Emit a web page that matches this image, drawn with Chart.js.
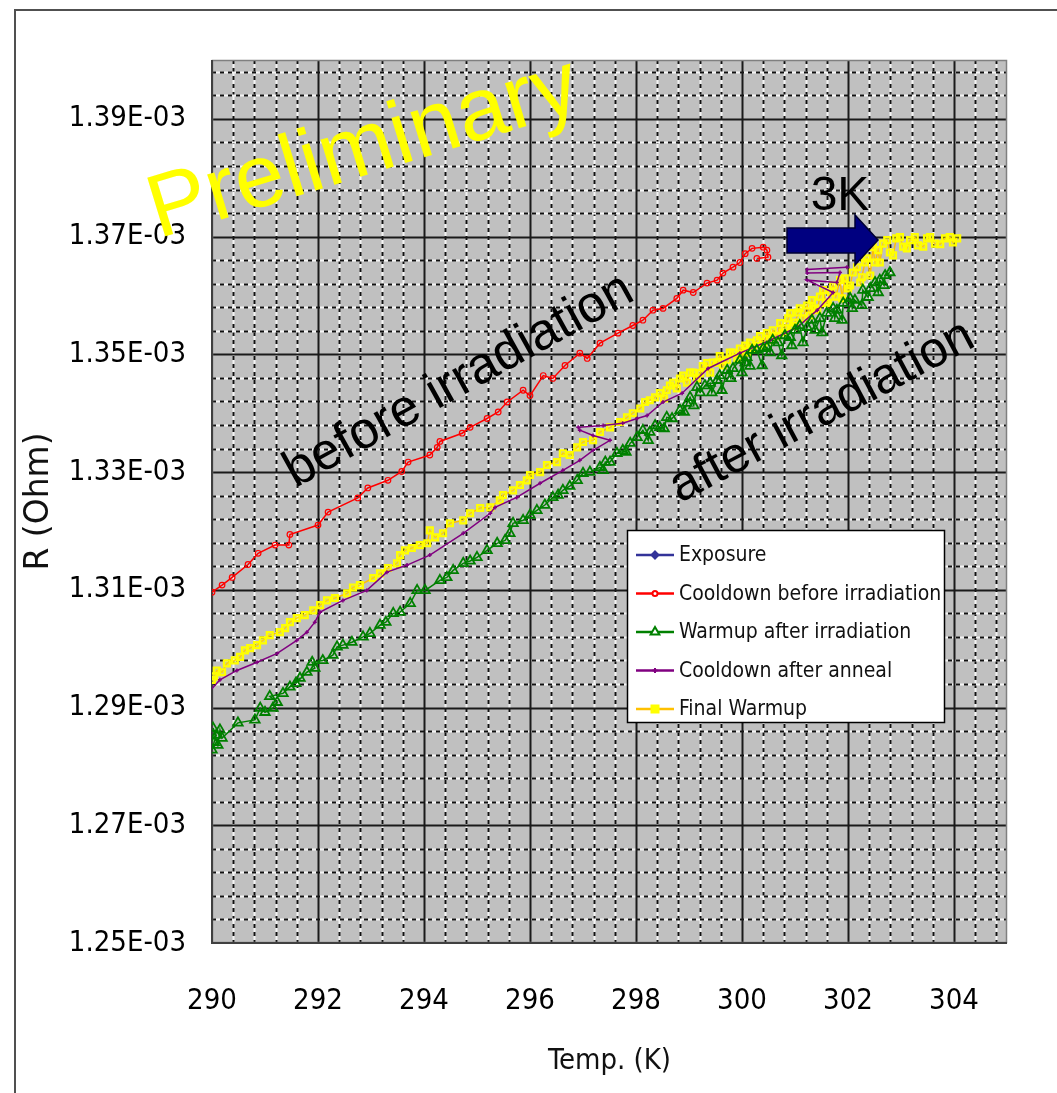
<!DOCTYPE html>
<html>
<head>
<meta charset="utf-8">
<script src="https://cdn.jsdelivr.net/npm/chart.js"></script>
<style>
  html, body { margin: 0; padding: 0; background: #ffffff; }
  #wrap { width: 1057px; height: 1093px; position: relative; }
</style>
</head>
<body>
<div id="wrap"><canvas id="c" width="1057" height="1093"></canvas></div>
<script>
// ---------------- DATA ----------------
const xTickValues = [290, 292, 294, 296, 298, 300, 302, 304];
const xTickLabels = ['290', '292', '294', '296', '298', '300', '302', '304'];
const yTickValues = [1.25e-3, 1.27e-3, 1.29e-3, 1.31e-3, 1.33e-3, 1.35e-3, 1.37e-3, 1.39e-3];
const yTickLabels = ['1.25E-03', '1.27E-03', '1.29E-03', '1.31E-03', '1.33E-03', '1.35E-03', '1.37E-03', '1.39E-03'];

const seriesNames = ['Exposure', 'Cooldown before irradiation', 'Warmup after irradiation', 'Cooldown after anneal', 'Final Warmup'];

const exposureT = [];
const exposureR = [];

const coolBeforeT = [300.28, 300.49, 300.47, 300.40, 300.19, 300.06, 299.96, 299.83, 299.64, 299.53, 299.34, 299.08, 298.89, 298.77, 298.51, 298.32, 298.13, 297.94, 297.66, 297.32, 297.08, 296.94, 296.66, 296.43, 296.25, 296.00, 295.87, 295.57, 295.40, 295.19, 294.87, 294.72, 294.30, 294.25, 294.11, 293.70, 293.58, 293.32, 292.94, 292.75, 292.19, 292.00, 291.47, 291.45, 291.19, 290.87, 290.68, 290.38, 290.19, 290.00, 289.87];
const coolBeforeR = [1.3663e-3, 1.3665e-3, 1.3677e-3, 1.3682e-3, 1.3680e-3, 1.3671e-3, 1.3656e-3, 1.3648e-3, 1.3638e-3, 1.3626e-3, 1.3621e-3, 1.3605e-3, 1.3609e-3, 1.3595e-3, 1.3578e-3, 1.3575e-3, 1.3558e-3, 1.3549e-3, 1.3536e-3, 1.3519e-3, 1.3493e-3, 1.3502e-3, 1.3481e-3, 1.3459e-3, 1.3464e-3, 1.3430e-3, 1.3439e-3, 1.3419e-3, 1.3402e-3, 1.3391e-3, 1.3376e-3, 1.3366e-3, 1.3352e-3, 1.3342e-3, 1.3329e-3, 1.3317e-3, 1.3301e-3, 1.3286e-3, 1.3273e-3, 1.3256e-3, 1.3232e-3, 1.3210e-3, 1.3194e-3, 1.3176e-3, 1.3176e-3, 1.3162e-3, 1.3143e-3, 1.3121e-3, 1.3108e-3, 1.3096e-3, 1.3087e-3];

const warmAfterIrrT = [290.00, 290.04, 290.08, 290.02, 290.11, 290.15, 290.19, 290.49, 290.81, 290.91, 291.00, 291.15, 291.23, 291.09, 291.34, 291.47, 291.66, 291.58, 291.79, 291.94, 291.89, 292.09, 292.28, 292.36, 292.47, 292.64, 292.85, 292.98, 293.17, 293.28, 293.42, 293.55, 293.74, 293.87, 294.02, 294.30, 294.43, 294.55, 294.74, 294.87, 295.00, 295.19, 295.38, 295.53, 295.62, 295.68, 295.87, 296.00, 296.13, 296.28, 296.43, 296.53, 296.62, 296.75, 296.89, 297.00, 297.13, 297.32, 297.38, 297.42, 297.51, 297.64, 297.75, 297.81, 297.89, 298.02, 298.13, 298.23, 298.26, 298.36, 298.45, 298.53, 298.58, 298.68, 298.83, 298.91, 298.96, 299.02, 299.09, 299.15, 299.21, 299.30, 299.40, 299.43, 299.53, 299.58, 299.62, 299.72, 299.79, 299.83, 299.96, 300.00, 300.06, 300.09, 300.15, 300.19, 300.28, 300.38, 300.40, 300.47, 300.53, 300.58, 300.68, 300.75, 300.81, 300.91, 300.94, 301.00, 301.09, 301.15, 301.23, 301.32, 301.38, 301.47, 301.51, 301.60, 301.72, 301.75, 301.79, 301.89, 301.91, 302.04, 302.08, 302.13, 302.26, 302.28, 302.38, 302.42, 302.51, 302.57, 302.60, 302.68, 302.70, 302.79];
const warmAfterIrrR = [1.2828e-3, 1.2841e-3, 1.2853e-3, 1.2865e-3, 1.2836e-3, 1.2862e-3, 1.2848e-3, 1.2874e-3, 1.2879e-3, 1.2899e-3, 1.2892e-3, 1.2899e-3, 1.2909e-3, 1.2919e-3, 1.2924e-3, 1.2935e-3, 1.2950e-3, 1.2941e-3, 1.2960e-3, 1.2967e-3, 1.2977e-3, 1.2980e-3, 1.2989e-3, 1.3003e-3, 1.3006e-3, 1.3011e-3, 1.3020e-3, 1.3026e-3, 1.3040e-3, 1.3045e-3, 1.3060e-3, 1.3062e-3, 1.3077e-3, 1.3099e-3, 1.3099e-3, 1.3116e-3, 1.3121e-3, 1.3133e-3, 1.3145e-3, 1.3149e-3, 1.3155e-3, 1.3167e-3, 1.3179e-3, 1.3184e-3, 1.3196e-3, 1.3213e-3, 1.3218e-3, 1.3227e-3, 1.3235e-3, 1.3244e-3, 1.3257e-3, 1.3261e-3, 1.3269e-3, 1.3276e-3, 1.3286e-3, 1.3298e-3, 1.3300e-3, 1.3308e-3, 1.3303e-3, 1.3317e-3, 1.3317e-3, 1.3332e-3, 1.3337e-3, 1.3334e-3, 1.3349e-3, 1.3359e-3, 1.3371e-3, 1.3354e-3, 1.3368e-3, 1.3379e-3, 1.3376e-3, 1.3374e-3, 1.3393e-3, 1.3391e-3, 1.3405e-3, 1.3402e-3, 1.3417e-3, 1.3427e-3, 1.3413e-3, 1.3444e-3, 1.3435e-3, 1.3447e-3, 1.3451e-3, 1.3435e-3, 1.3456e-3, 1.3464e-3, 1.3439e-3, 1.3473e-3, 1.3459e-3, 1.3476e-3, 1.3490e-3, 1.3469e-3, 1.3486e-3, 1.3495e-3, 1.3480e-3, 1.3507e-3, 1.3507e-3, 1.3481e-3, 1.3510e-3, 1.3512e-3, 1.3503e-3, 1.3524e-3, 1.3520e-3, 1.3498e-3, 1.3532e-3, 1.3529e-3, 1.3515e-3, 1.3541e-3, 1.3549e-3, 1.3520e-3, 1.3546e-3, 1.3558e-3, 1.3541e-3, 1.3561e-3, 1.3537e-3, 1.3570e-3, 1.3578e-3, 1.3561e-3, 1.3575e-3, 1.3558e-3, 1.3587e-3, 1.3595e-3, 1.3578e-3, 1.3592e-3, 1.3583e-3, 1.3609e-3, 1.3597e-3, 1.3612e-3, 1.3622e-3, 1.3605e-3, 1.3626e-3, 1.3617e-3, 1.3634e-3, 1.3639e-3];

const coolAfterAnnealT = [301.98, 301.23, 301.23, 301.85, 301.79, 301.23, 301.72, 301.42, 301.04, 300.53, 299.96, 299.36, 298.87, 298.51, 298.21, 298.02, 297.75, 297.38, 296.91, 296.94, 297.19, 297.51, 297.19, 296.94, 296.62, 296.19, 295.75, 295.34, 295.25, 294.74, 294.11, 293.68, 293.30, 292.92, 292.47, 292.04, 291.94, 291.79, 291.60, 291.23, 290.85, 290.47, 290.15, 289.92];
const coolAfterAnnealR = [1.3648e-3, 1.3644e-3, 1.3638e-3, 1.3639e-3, 1.3622e-3, 1.3626e-3, 1.3605e-3, 1.3575e-3, 1.3546e-3, 1.3524e-3, 1.3502e-3, 1.3476e-3, 1.3434e-3, 1.3419e-3, 1.3396e-3, 1.3391e-3, 1.3383e-3, 1.3379e-3, 1.3376e-3, 1.3371e-3, 1.3362e-3, 1.3354e-3, 1.3337e-3, 1.3320e-3, 1.3303e-3, 1.3281e-3, 1.3257e-3, 1.3240e-3, 1.3230e-3, 1.3196e-3, 1.3159e-3, 1.3142e-3, 1.3130e-3, 1.3099e-3, 1.3082e-3, 1.3062e-3, 1.3045e-3, 1.3028e-3, 1.3014e-3, 1.2992e-3, 1.2977e-3, 1.2963e-3, 1.2947e-3, 1.2924e-3];

const finalWarmT = [290.00, 290.04, 290.09, 290.19, 290.28, 290.43, 290.53, 290.62, 290.72, 290.85, 290.96, 291.09, 291.28, 291.38, 291.47, 291.60, 291.75, 291.91, 292.04, 292.17, 292.32, 292.55, 292.66, 292.79, 293.04, 293.17, 293.32, 293.49, 293.55, 293.64, 293.77, 293.92, 294.06, 294.11, 294.21, 294.36, 294.49, 294.74, 294.87, 295.06, 295.25, 295.43, 295.49, 295.68, 295.81, 295.94, 296.00, 296.19, 296.32, 296.51, 296.62, 296.75, 296.89, 297.00, 297.19, 297.32, 297.51, 297.70, 297.83, 297.94,
  298.08, 298.17, 298.26, 298.36, 298.45, 298.53, 298.58, 298.64, 298.70, 298.77, 298.83, 298.89, 298.96, 299.02, 299.08, 299.15, 299.21, 299.26, 299.34, 299.40, 299.45, 299.53, 299.58, 299.64, 299.72, 299.77, 299.83, 299.91, 299.96, 300.02, 300.06, 300.11, 300.15, 300.21, 300.28, 300.34, 300.40, 300.47, 300.53, 300.58, 300.66, 300.72, 300.77, 300.81, 300.87, 300.91, 300.96, 301.00, 301.06, 301.09, 301.15, 301.23, 301.28, 301.32, 301.38, 301.42, 301.47, 301.53, 301.58, 301.62, 301.68, 301.72, 301.77, 301.85, 301.89, 301.94, 302.00, 302.04, 302.09, 302.17, 302.23, 302.26, 302.32, 302.36, 302.42, 302.47, 302.51, 302.57, 302.60, 302.66, 302.74, 302.79, 302.85, 302.91, 302.98, 303.04, 303.11, 303.17, 303.26, 303.32, 303.42, 303.49, 303.55, 303.64, 303.74, 303.83, 303.92, 303.98, 304.06];
const finalWarmR = [1.2947e-3, 1.2953e-3, 1.2963e-3, 1.2960e-3, 1.2975e-3, 1.2980e-3, 1.2986e-3, 1.2997e-3, 1.3001e-3, 1.3006e-3, 1.3014e-3, 1.3023e-3, 1.3028e-3, 1.3035e-3, 1.3045e-3, 1.3052e-3, 1.3057e-3, 1.3065e-3, 1.3074e-3, 1.3082e-3, 1.3086e-3, 1.3094e-3, 1.3104e-3, 1.3108e-3, 1.3120e-3, 1.3128e-3, 1.3137e-3, 1.3145e-3, 1.3159e-3, 1.3167e-3, 1.3171e-3, 1.3176e-3, 1.3179e-3, 1.3201e-3, 1.3189e-3, 1.3196e-3, 1.3213e-3, 1.3218e-3, 1.3230e-3, 1.3239e-3, 1.3240e-3, 1.3252e-3, 1.3261e-3, 1.3269e-3, 1.3278e-3, 1.3286e-3, 1.3295e-3, 1.3300e-3, 1.3312e-3, 1.3317e-3, 1.3332e-3, 1.3329e-3, 1.3342e-3, 1.3351e-3, 1.3354e-3, 1.3368e-3, 1.3376e-3, 1.3385e-3, 1.3393e-3, 1.3400e-3,
  1.3408e-3, 1.3419e-3, 1.3422e-3, 1.3427e-3, 1.3434e-3, 1.3425e-3, 1.3439e-3, 1.3447e-3, 1.3452e-3, 1.3442e-3, 1.3459e-3, 1.3464e-3, 1.3452e-3, 1.3469e-3, 1.3469e-3, 1.3459e-3, 1.3468e-3, 1.3480e-3, 1.3485e-3, 1.3469e-3, 1.3486e-3, 1.3486e-3, 1.3497e-3, 1.3481e-3, 1.3490e-3, 1.3503e-3, 1.3503e-3, 1.3493e-3, 1.3510e-3, 1.3498e-3, 1.3515e-3, 1.3503e-3, 1.3520e-3, 1.3510e-3, 1.3524e-3, 1.3531e-3, 1.3515e-3, 1.3536e-3, 1.3524e-3, 1.3541e-3, 1.3531e-3, 1.3553e-3, 1.3537e-3, 1.3544e-3, 1.3561e-3, 1.3570e-3, 1.3548e-3, 1.3554e-3, 1.3571e-3, 1.3578e-3, 1.3561e-3, 1.3583e-3, 1.3566e-3, 1.3592e-3, 1.3578e-3, 1.3575e-3, 1.3598e-3, 1.3609e-3, 1.3587e-3, 1.3588e-3, 1.3605e-3, 1.3617e-3, 1.3598e-3, 1.3626e-3, 1.3595e-3, 1.3629e-3, 1.3612e-3, 1.3617e-3, 1.3639e-3, 1.3648e-3, 1.3622e-3, 1.3631e-3, 1.3656e-3, 1.3663e-3, 1.3634e-3, 1.3682e-3, 1.3656e-3, 1.3677e-3, 1.3656e-3, 1.3688e-3, 1.3694e-3, 1.3673e-3, 1.3668e-3, 1.3697e-3, 1.3699e-3, 1.3683e-3, 1.3680e-3, 1.3694e-3, 1.3699e-3, 1.3685e-3, 1.3683e-3, 1.3697e-3, 1.3699e-3, 1.3688e-3, 1.3687e-3, 1.3697e-3, 1.3699e-3, 1.3690e-3, 1.3697e-3];

// ---------------- STYLE / LAYOUT ----------------
const X_MIN = 290, X_MAX = 305, X_MINOR = 0.4, X_MAJOR_EVERY = 5;
const Y_MIN = 1.25e-3, Y_MAX = 1.40e-3, Y_MINOR = 0.004e-3, Y_MAJOR_EVERY = 5;
const NARROW = "'Liberation Sans Narrow', 'DejaVu Sans Condensed', 'Arial Narrow', sans-serif";
const SANS = "'Liberation Sans', Arial, sans-serif";

function pts(T, R) { return T.map((t, i) => ({ x: t, y: R[i] })); }

const datasets = [
  { label: seriesNames[0], data: pts(exposureT, exposureR), borderColor: '#333399', backgroundColor: '#333399',
    pointStyle: 'rectRot', pointRadius: 3, pointBorderWidth: 1, borderWidth: 2, legendMarkerR: 3.5, legendFill: true },
  { label: seriesNames[1], data: pts(coolBeforeT, coolBeforeR), borderColor: '#ff0000', backgroundColor: 'rgba(0,0,0,0)',
    pointBorderColor: '#ff0000', pointStyle: 'circle', pointRadius: 2.8, pointBorderWidth: 1.2, borderWidth: 1.5, legendMarkerR: 2.5 },
  { label: seriesNames[2], data: pts(warmAfterIrrT, warmAfterIrrR), borderColor: '#008000', backgroundColor: 'rgba(0,0,0,0)',
    pointBorderColor: '#008000', pointStyle: 'triangle', pointRadius: 5.5, pointBorderWidth: 1.8, borderWidth: 1.5, legendMarkerR: 5 },
  { label: seriesNames[3], data: pts(coolAfterAnnealT, coolAfterAnnealR), borderColor: '#800080', backgroundColor: 'rgba(0,0,0,0)',
    pointBorderColor: '#800080', pointStyle: 'cross', pointRadius: 2, pointBorderWidth: 1.5, borderWidth: 1.5, legendMarkerR: 2.5 },
  { label: seriesNames[4], data: pts(finalWarmT, finalWarmR), borderColor: '#ffc000', backgroundColor: 'rgba(255,255,0,0.35)',
    pointBorderColor: '#ffff00', pointStyle: 'rect', pointRadius: 4.2, pointBorderWidth: 2.2, borderWidth: 1.5, legendMarkerR: 3.5, legendMarkerColor: '#ffff00' }
];

// Plot background + Excel-like grid (drawn through the chart scales)
const gridPlugin = {
  id: 'excelGrid',
  beforeDatasetsDraw(chart) {
    const { ctx, chartArea: a, scales: { x, y } } = chart;
    ctx.save();
    ctx.fillStyle = '#c0c0c0';
    ctx.fillRect(a.left, a.top, a.right - a.left, a.bottom - a.top);
    const nx = Math.floor((X_MAX - X_MIN) / X_MINOR + 1e-6);
    const ny = Math.floor((Y_MAX - Y_MIN) / Y_MINOR + 1e-6);
    const vLine = (v, dash, color) => {
      const px = Math.round(x.getPixelForValue(v)) + 0.5;
      ctx.strokeStyle = color; ctx.setLineDash(dash);
      ctx.beginPath(); ctx.moveTo(px, a.top); ctx.lineTo(px, a.bottom); ctx.stroke();
    };
    const hLine = (v, dash, color) => {
      const py = Math.round(y.getPixelForValue(v)) + 0.5;
      ctx.strokeStyle = color; ctx.setLineDash(dash);
      ctx.beginPath(); ctx.moveTo(a.left, py); ctx.lineTo(a.right, py); ctx.stroke();
    };
    ctx.lineWidth = 2;
    for (let i = 1; i <= nx; i++) {
      if (i % X_MAJOR_EVERY === 0) continue;
      const v = X_MIN + i * X_MINOR;
      vLine(v, [], '#f4f4f4'); vLine(v, [4, 4], '#111111');
    }
    for (let j = 1; j <= ny; j++) {
      if (j % Y_MAJOR_EVERY === 0) continue;
      const v = Y_MIN + j * Y_MINOR;
      hLine(v, [], '#f4f4f4'); hLine(v, [4, 4], '#111111');
    }
    ctx.lineWidth = 2;
    for (let i = X_MAJOR_EVERY; i <= nx; i += X_MAJOR_EVERY) vLine(X_MIN + i * X_MINOR, [], '#1a1a1a');
    for (let j = Y_MAJOR_EVERY; j <= ny; j += Y_MAJOR_EVERY) hLine(Y_MIN + j * Y_MINOR, [], '#1a1a1a');
    ctx.setLineDash([]);
    ctx.strokeStyle = '#808080'; ctx.lineWidth = 1.5;
    ctx.strokeRect(a.left + 0.5, a.top + 0.5, a.right - a.left - 1, a.bottom - a.top - 1);
    ctx.strokeStyle = '#404040'; ctx.lineWidth = 2;
    ctx.beginPath(); ctx.moveTo(a.left, a.top); ctx.lineTo(a.left, a.bottom); ctx.lineTo(a.right, a.bottom); ctx.stroke();
    ctx.restore();
  }
};

const framePlugin = {
  id: 'frame',
  beforeDraw(chart) {
    const { ctx } = chart;
    ctx.save();
    ctx.fillStyle = '#ffffff';
    ctx.fillRect(0, 0, chart.width, chart.height);
    ctx.strokeStyle = '#505050'; ctx.lineWidth = 2;
    ctx.beginPath(); ctx.moveTo(15, chart.height + 5); ctx.lineTo(15, 10); ctx.lineTo(chart.width + 5, 10); ctx.stroke();
    ctx.restore();
  }
};

function drawMarker(ctx, style, x, y, r) {
  ctx.beginPath();
  if (style === 'rectRot') { ctx.moveTo(x, y - r); ctx.lineTo(x + r, y); ctx.lineTo(x, y + r); ctx.lineTo(x - r, y); ctx.closePath(); }
  else if (style === 'circle') { ctx.arc(x, y, r, 0, Math.PI * 2); }
  else if (style === 'triangle') { ctx.moveTo(x, y - r); ctx.lineTo(x + r * 0.87, y + r * 0.5); ctx.lineTo(x - r * 0.87, y + r * 0.5); ctx.closePath(); }
  else if (style === 'cross') { ctx.moveTo(x - r, y); ctx.lineTo(x + r, y); ctx.moveTo(x, y - r); ctx.lineTo(x, y + r); }
  else if (style === 'rect') { ctx.rect(x - r, y - r, 2 * r, 2 * r); }
}

const overlayPlugin = {
  id: 'overlay',
  afterDatasetsDraw(chart) {
    const { ctx } = chart;
    ctx.save();
    // ---- legend ----
    const L = { left: 627, top: 530, right: 944, bottom: 722, firstY: 555, step: 38.5, lineX1: 636, lineX2: 674, textX: 679 };
    ctx.fillStyle = '#ffffff';
    ctx.fillRect(L.left, L.top, L.right - L.left, L.bottom - L.top);
    ctx.strokeStyle = '#000000'; ctx.lineWidth = 1.5;
    ctx.strokeRect(L.left + 0.5, L.top + 0.5, L.right - L.left, L.bottom - L.top);
    chart.data.datasets.forEach((ds, i) => {
      const yy = L.firstY + i * L.step;
      ctx.strokeStyle = ds.borderColor; ctx.lineWidth = 2.5;
      ctx.beginPath(); ctx.moveTo(L.lineX1, yy); ctx.lineTo(L.lineX2, yy); ctx.stroke();
      const mx = (L.lineX1 + L.lineX2) / 2;
      const mc = ds.legendMarkerColor || ds.borderColor;
      ctx.strokeStyle = mc; ctx.lineWidth = 2;
      drawMarker(ctx, ds.pointStyle, mx, yy, ds.legendMarkerR);
      if (ds.legendFill || ds.pointStyle === 'rect') { ctx.fillStyle = mc; ctx.fill(); }
      else if (ds.pointStyle !== 'cross') { ctx.fillStyle = '#ffffff'; ctx.fill(); }
      ctx.stroke();
      ctx.fillStyle = '#111111';
      ctx.font = '21px ' + NARROW;
      ctx.textAlign = 'left'; ctx.textBaseline = 'middle';
      ctx.fillText(ds.label, L.textX, yy + 1);
    });
    // ---- rotated annotation texts ----
    const rotText = (txt, cx, cy, deg, size, color, family) => {
      ctx.save();
      ctx.translate(cx, cy); ctx.rotate(-deg * Math.PI / 180);
      ctx.fillStyle = color; ctx.font = size + 'px ' + family;
      ctx.textAlign = 'center'; ctx.textBaseline = 'middle';
      ctx.fillText(txt, 0, 0);
      ctx.restore();
    };
    rotText('Preliminary', 364, 150, 17, 89, '#ffff00', SANS);
    rotText('before irradiation', 459, 381, 29, 52, '#000000', SANS);
    rotText('after irradiation', 822, 412, 28, 50.5, '#000000', SANS);
    rotText('3K', 840, 197, 0, 48, '#000000', SANS);
    // ---- arrow ----
    ctx.beginPath();
    ctx.moveTo(787, 228); ctx.lineTo(855, 228); ctx.lineTo(855, 215); ctx.lineTo(878, 240);
    ctx.lineTo(855, 265); ctx.lineTo(855, 253); ctx.lineTo(787, 253); ctx.closePath();
    ctx.fillStyle = '#000080'; ctx.fill();
    ctx.strokeStyle = '#000033'; ctx.lineWidth = 1.5; ctx.stroke();
    ctx.restore();
  }
};

new Chart(document.getElementById('c'), {
  type: 'line',
  data: { datasets },
  options: {
    responsive: false,
    animation: false,
    events: [],
    devicePixelRatio: 1,
    layout: { padding: { top: 60, right: 50, left: 0, bottom: 0 } },
    elements: { line: { tension: 0 } },
    plugins: { legend: { display: false }, tooltip: { enabled: false } },
    scales: {
      x: {
        type: 'linear', min: X_MIN, max: X_MAX,
        grid: { display: false, drawTicks: false }, border: { display: false },
        afterFit: (s) => { s.height = 150; },
        afterBuildTicks: (s) => { s.ticks = xTickValues.map(v => ({ value: v })); },
        ticks: { autoSkip: false, maxRotation: 0, padding: 41, color: '#000000',
                 font: { family: NARROW, size: 29 }, callback: (v, i) => xTickLabels[i] },
        title: { display: true, text: 'Temp. (K)', color: '#111111', font: { family: NARROW, size: 29 }, padding: { top: 0, bottom: 14 } }
      },
      y: {
        type: 'linear', min: Y_MIN, max: Y_MAX,
        grid: { display: false, drawTicks: false }, border: { display: false },
        afterFit: (s) => { s.width = 212; },
        afterBuildTicks: (s) => { s.ticks = yTickValues.map(v => ({ value: v })); },
        ticks: { autoSkip: false, padding: 26, color: '#000000',
                 font: { family: NARROW, size: 29 }, callback: (v, i) => yTickLabels[i] },
        title: { display: true, text: 'R (Ohm)', color: '#111111', font: { family: "'DejaVu Sans', sans-serif", size: 33 }, padding: { top: 20, bottom: 0 } }
      }
    }
  },
  plugins: [framePlugin, gridPlugin, overlayPlugin]
});
</script>
</body>
</html>
